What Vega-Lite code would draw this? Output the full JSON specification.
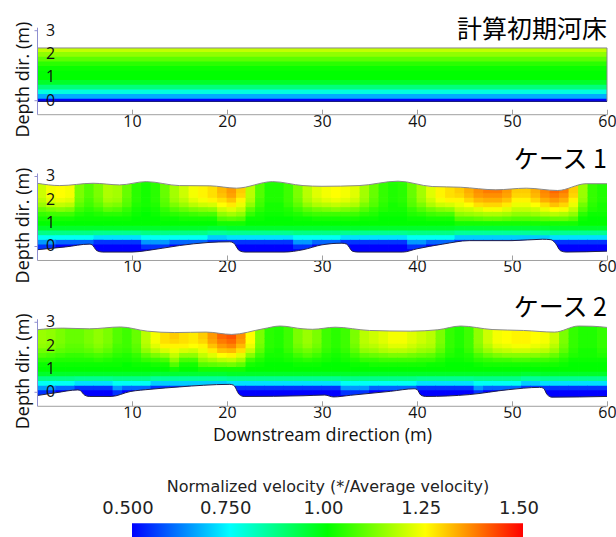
{
"$schema":"https://vega.github.io/schema/vega-lite/v6.json",
"padding":{"left":14,"top":17.2,"right":5,"bottom":0},
"background":"white",
"config":{"view":{"stroke":null},"font":"Open Sans","axis":{"grid":false,"labelColor":"#111","titleColor":"#111"}},
"datasets":{
"lev":[{"lv":"a","yc":-0.2},{"lv":"b","yc":0},{"lv":"c","yc":0.2},{"lv":"d","yc":0.4},{"lv":"e","yc":0.6},{"lv":"f","yc":0.8},{"lv":"g","yc":1},{"lv":"h","yc":1.2},{"lv":"i","yc":1.4},{"lv":"j","yc":1.6},{"lv":"k","yc":1.8},{"lv":"l","yc":2},{"lv":"m","yc":2.2},{"lv":"n","yc":2.4},{"lv":"o","yc":2.6},{"lv":"p","yc":2.8}],
"ticks":[{"yl":0},{"yl":1},{"yl":2},{"yl":3}],
"vel":[
{"s":1,"x":0,"x2":60,"a":0.5,"b":0.5,"c":0.67,"d":0.78,"e":0.88,"f":0.96,"g":1,"h":1,"i":1.01,"j":1.04,"k":1.09,"l":1.14,"m":1.19,"n":1.21,"o":1.21,"p":1.21},
{"s":2,"x":0.5,"a":0.5,"b":0.55,"c":0.65,"d":0.76,"e":0.87,"f":0.96,"g":1,"h":1.02,"i":1.05,"j":1.1,"k":1.15,"l":1.18,"m":1.2,"n":1.2,"o":1.2,"p":1.2},
{"s":2,"x":1.5,"a":0.5,"b":0.55,"c":0.65,"d":0.76,"e":0.87,"f":0.96,"g":1,"h":1.02,"i":1.06,"j":1.12,"k":1.18,"l":1.22,"m":1.24,"n":1.24,"o":1.24,"p":1.24},
{"s":2,"x":2.5,"a":0.5,"b":0.5,"c":0.6,"d":0.76,"e":0.87,"f":0.96,"g":1,"h":1.02,"i":1.06,"j":1.13,"k":1.19,"l":1.23,"m":1.25,"n":1.25,"o":1.25,"p":1.25},
{"s":2,"x":3.5,"a":0.5,"b":0.5,"c":0.6,"d":0.76,"e":0.87,"f":0.96,"g":1,"h":1.02,"i":1.06,"j":1.12,"k":1.18,"l":1.22,"m":1.24,"n":1.24,"o":1.24,"p":1.24},
{"s":2,"x":4.5,"a":0.5,"b":0.5,"c":0.6,"d":0.76,"e":0.87,"f":0.96,"g":1,"h":1.01,"i":1.03,"j":1.06,"k":1.09,"l":1.11,"m":1.12,"n":1.12,"o":1.12,"p":1.12},
{"s":2,"x":5.5,"a":0.5,"b":0.5,"c":0.6,"d":0.76,"e":0.87,"f":0.96,"g":1,"h":1.01,"i":1.02,"j":1.04,"k":1.06,"l":1.07,"m":1.08,"n":1.08,"o":1.08,"p":1.08},
{"s":2,"x":6.5,"a":0.5,"b":0.5,"c":0.55,"d":0.72,"e":0.86,"f":0.96,"g":1,"h":1.01,"i":1.03,"j":1.06,"k":1.09,"l":1.11,"m":1.12,"n":1.12,"o":1.12,"p":1.12},
{"s":2,"x":7.5,"a":0.5,"b":0.5,"c":0.55,"d":0.72,"e":0.86,"f":0.96,"g":1,"h":1.01,"i":1.04,"j":1.09,"k":1.13,"l":1.16,"m":1.17,"n":1.17,"o":1.17,"p":1.17},
{"s":2,"x":8.5,"a":0.5,"b":0.5,"c":0.55,"d":0.72,"e":0.86,"f":0.96,"g":1,"h":1.01,"i":1.04,"j":1.08,"k":1.12,"l":1.15,"m":1.16,"n":1.16,"o":1.16,"p":1.16},
{"s":2,"x":9.5,"a":0.5,"b":0.5,"c":0.55,"d":0.72,"e":0.86,"f":0.96,"g":1,"h":1.01,"i":1.03,"j":1.05,"k":1.08,"l":1.09,"m":1.1,"n":1.1,"o":1.1,"p":1.1},
{"s":2,"x":10.5,"a":0.5,"b":0.5,"c":0.55,"d":0.72,"e":0.86,"f":0.96,"g":1,"h":1,"i":1.01,"j":1.02,"k":1.03,"l":1.04,"m":1.04,"n":1.04,"o":1.04,"p":1.04},
{"s":2,"x":11.5,"a":0.5,"b":0.55,"c":0.65,"d":0.76,"e":0.87,"f":0.96,"g":1,"h":1,"i":1,"j":1.01,"k":1.02,"l":1.02,"m":1.02,"n":1.02,"o":1.02,"p":1.02},
{"s":2,"x":12.5,"a":0.5,"b":0.55,"c":0.65,"d":0.76,"e":0.87,"f":0.96,"g":1,"h":1,"i":1.01,"j":1.02,"k":1.03,"l":1.04,"m":1.04,"n":1.04,"o":1.04,"p":1.04},
{"s":2,"x":13.5,"a":0.5,"b":0.55,"c":0.65,"d":0.76,"e":0.87,"f":0.96,"g":1,"h":1.01,"i":1.03,"j":1.05,"k":1.08,"l":1.09,"m":1.1,"n":1.1,"o":1.1,"p":1.1},
{"s":2,"x":14.5,"a":0.5,"b":0.5,"c":0.6,"d":0.76,"e":0.87,"f":0.96,"g":1,"h":1.01,"i":1.04,"j":1.08,"k":1.12,"l":1.15,"m":1.16,"n":1.16,"o":1.16,"p":1.16},
{"s":2,"x":15.5,"a":0.5,"b":0.5,"c":0.6,"d":0.76,"e":0.87,"f":0.96,"g":1,"h":1.02,"i":1.05,"j":1.1,"k":1.15,"l":1.18,"m":1.2,"n":1.2,"o":1.2,"p":1.2},
{"s":2,"x":16.5,"a":0.5,"b":0.5,"c":0.6,"d":0.76,"e":0.87,"f":0.96,"g":1,"h":1.02,"i":1.06,"j":1.12,"k":1.18,"l":1.22,"m":1.24,"n":1.24,"o":1.24,"p":1.24},
{"s":2,"x":17.5,"a":0.5,"b":0.5,"c":0.6,"d":0.76,"e":0.87,"f":0.96,"g":1,"h":1.02,"i":1.07,"j":1.13,"k":1.2,"l":1.24,"m":1.26,"n":1.26,"o":1.26,"p":1.26},
{"s":2,"x":18.5,"a":0.5,"b":0.5,"c":0.55,"d":0.7,"e":0.85,"f":0.95,"g":1,"h":1.02,"i":1.07,"j":1.14,"k":1.21,"l":1.26,"m":1.28,"n":1.28,"o":1.28,"p":1.28},
{"s":2,"x":19.5,"a":0.5,"b":0.5,"c":0.55,"d":0.7,"e":0.85,"f":0.95,"g":1.02,"h":1.08,"i":1.14,"j":1.2,"k":1.25,"l":1.28,"m":1.31,"n":1.32,"o":1.32,"p":1.32},
{"s":2,"x":20.5,"a":0.5,"b":0.5,"c":0.55,"d":0.72,"e":0.86,"f":0.96,"g":1.02,"h":1.09,"i":1.16,"j":1.22,"k":1.27,"l":1.31,"m":1.34,"n":1.35,"o":1.35,"p":1.35},
{"s":2,"x":21.5,"a":0.5,"b":0.5,"c":0.55,"d":0.72,"e":0.86,"f":0.96,"g":1.02,"h":1.08,"i":1.14,"j":1.19,"k":1.23,"l":1.26,"m":1.29,"n":1.3,"o":1.3,"p":1.3},
{"s":2,"x":22.5,"a":0.5,"b":0.5,"c":0.55,"d":0.72,"e":0.86,"f":0.96,"g":1,"h":1.01,"i":1.05,"j":1.09,"k":1.14,"l":1.17,"m":1.18,"n":1.18,"o":1.18,"p":1.18},
{"s":2,"x":23.5,"a":0.5,"b":0.5,"c":0.55,"d":0.72,"e":0.86,"f":0.96,"g":1,"h":1.01,"i":1.02,"j":1.04,"k":1.06,"l":1.07,"m":1.08,"n":1.08,"o":1.08,"p":1.08},
{"s":2,"x":24.5,"a":0.5,"b":0.5,"c":0.55,"d":0.72,"e":0.86,"f":0.96,"g":1,"h":1,"i":1.01,"j":1.02,"k":1.02,"l":1.03,"m":1.03,"n":1.03,"o":1.03,"p":1.03},
{"s":2,"x":25.5,"a":0.5,"b":0.5,"c":0.55,"d":0.72,"e":0.86,"f":0.96,"g":1,"h":1,"i":1.01,"j":1.02,"k":1.02,"l":1.03,"m":1.03,"n":1.03,"o":1.03,"p":1.03},
{"s":2,"x":26.5,"a":0.5,"b":0.5,"c":0.55,"d":0.72,"e":0.86,"f":0.96,"g":1,"h":1,"i":1.02,"j":1.03,"k":1.05,"l":1.06,"m":1.06,"n":1.06,"o":1.06,"p":1.06},
{"s":2,"x":27.5,"a":0.5,"b":0.55,"c":0.65,"d":0.76,"e":0.87,"f":0.96,"g":1,"h":1.01,"i":1.03,"j":1.06,"k":1.09,"l":1.11,"m":1.12,"n":1.12,"o":1.12,"p":1.12},
{"s":2,"x":28.5,"a":0.5,"b":0.55,"c":0.65,"d":0.76,"e":0.87,"f":0.96,"g":1,"h":1.01,"i":1.05,"j":1.09,"k":1.14,"l":1.17,"m":1.18,"n":1.18,"o":1.18,"p":1.18},
{"s":2,"x":29.5,"a":0.5,"b":0.5,"c":0.6,"d":0.76,"e":0.87,"f":0.96,"g":1,"h":1.02,"i":1.06,"j":1.11,"k":1.17,"l":1.2,"m":1.22,"n":1.22,"o":1.22,"p":1.22},
{"s":2,"x":30.5,"a":0.5,"b":0.5,"c":0.6,"d":0.76,"e":0.87,"f":0.96,"g":1,"h":1.02,"i":1.06,"j":1.12,"k":1.18,"l":1.22,"m":1.24,"n":1.24,"o":1.24,"p":1.24},
{"s":2,"x":31.5,"a":0.5,"b":0.5,"c":0.6,"d":0.76,"e":0.87,"f":0.96,"g":1,"h":1.02,"i":1.06,"j":1.13,"k":1.19,"l":1.23,"m":1.25,"n":1.25,"o":1.25,"p":1.25},
{"s":2,"x":32.5,"a":0.5,"b":0.5,"c":0.55,"d":0.72,"e":0.86,"f":0.96,"g":1,"h":1.02,"i":1.06,"j":1.12,"k":1.18,"l":1.22,"m":1.24,"n":1.24,"o":1.24,"p":1.24},
{"s":2,"x":33.5,"a":0.5,"b":0.5,"c":0.55,"d":0.72,"e":0.86,"f":0.96,"g":1,"h":1.02,"i":1.06,"j":1.11,"k":1.17,"l":1.2,"m":1.22,"n":1.22,"o":1.22,"p":1.22},
{"s":2,"x":34.5,"a":0.5,"b":0.5,"c":0.55,"d":0.72,"e":0.86,"f":0.96,"g":1,"h":1.01,"i":1.04,"j":1.08,"k":1.12,"l":1.15,"m":1.16,"n":1.16,"o":1.16,"p":1.16},
{"s":2,"x":35.5,"a":0.5,"b":0.5,"c":0.55,"d":0.72,"e":0.86,"f":0.96,"g":1,"h":1.01,"i":1.03,"j":1.05,"k":1.08,"l":1.09,"m":1.1,"n":1.1,"o":1.1,"p":1.1},
{"s":2,"x":36.5,"a":0.5,"b":0.5,"c":0.55,"d":0.72,"e":0.86,"f":0.96,"g":1,"h":1,"i":1.01,"j":1.03,"k":1.04,"l":1.05,"m":1.05,"n":1.05,"o":1.05,"p":1.05},
{"s":2,"x":37.5,"a":0.5,"b":0.5,"c":0.55,"d":0.72,"e":0.86,"f":0.96,"g":1,"h":1,"i":1.01,"j":1.02,"k":1.02,"l":1.03,"m":1.03,"n":1.03,"o":1.03,"p":1.03},
{"s":2,"x":38.5,"a":0.5,"b":0.5,"c":0.55,"d":0.72,"e":0.86,"f":0.96,"g":1,"h":1,"i":1.01,"j":1.02,"k":1.03,"l":1.04,"m":1.04,"n":1.04,"o":1.04,"p":1.04},
{"s":2,"x":39.5,"a":0.5,"b":0.55,"c":0.65,"d":0.76,"e":0.87,"f":0.96,"g":1,"h":1.01,"i":1.03,"j":1.05,"k":1.08,"l":1.09,"m":1.1,"n":1.1,"o":1.1,"p":1.1},
{"s":2,"x":40.5,"a":0.5,"b":0.55,"c":0.65,"d":0.76,"e":0.87,"f":0.96,"g":1,"h":1.01,"i":1.04,"j":1.08,"k":1.12,"l":1.15,"m":1.16,"n":1.16,"o":1.16,"p":1.16},
{"s":2,"x":41.5,"a":0.5,"b":0.5,"c":0.6,"d":0.76,"e":0.87,"f":0.96,"g":1,"h":1.02,"i":1.06,"j":1.11,"k":1.17,"l":1.2,"m":1.22,"n":1.22,"o":1.22,"p":1.22},
{"s":2,"x":42.5,"a":0.5,"b":0.5,"c":0.6,"d":0.76,"e":0.87,"f":0.96,"g":1,"h":1.02,"i":1.07,"j":1.13,"k":1.2,"l":1.24,"m":1.26,"n":1.26,"o":1.26,"p":1.26},
{"s":2,"x":43.5,"a":0.5,"b":0.5,"c":0.6,"d":0.76,"e":0.87,"f":0.96,"g":1,"h":1.02,"i":1.07,"j":1.14,"k":1.21,"l":1.26,"m":1.28,"n":1.28,"o":1.28,"p":1.28},
{"s":2,"x":44.5,"a":0.5,"b":0.5,"c":0.55,"d":0.7,"e":0.85,"f":0.95,"g":1.02,"h":1.08,"i":1.14,"j":1.19,"k":1.23,"l":1.26,"m":1.29,"n":1.3,"o":1.3,"p":1.3},
{"s":2,"x":45.5,"a":0.5,"b":0.5,"c":0.55,"d":0.7,"e":0.85,"f":0.95,"g":1.02,"h":1.08,"i":1.15,"j":1.2,"k":1.25,"l":1.29,"m":1.32,"n":1.33,"o":1.33,"p":1.33},
{"s":2,"x":46.5,"a":0.5,"b":0.5,"c":0.55,"d":0.7,"e":0.85,"f":0.95,"g":1.02,"h":1.09,"i":1.16,"j":1.22,"k":1.28,"l":1.32,"m":1.35,"n":1.36,"o":1.36,"p":1.36},
{"s":2,"x":47.5,"a":0.5,"b":0.5,"c":0.55,"d":0.7,"e":0.85,"f":0.95,"g":1.02,"h":1.1,"i":1.17,"j":1.24,"k":1.29,"l":1.33,"m":1.36,"n":1.38,"o":1.38,"p":1.38},
{"s":2,"x":48.5,"a":0.5,"b":0.5,"c":0.55,"d":0.7,"e":0.85,"f":0.95,"g":1.02,"h":1.1,"i":1.17,"j":1.24,"k":1.29,"l":1.33,"m":1.36,"n":1.38,"o":1.38,"p":1.38},
{"s":2,"x":49.5,"a":0.5,"b":0.5,"c":0.55,"d":0.7,"e":0.85,"f":0.95,"g":1.02,"h":1.09,"i":1.16,"j":1.22,"k":1.27,"l":1.31,"m":1.34,"n":1.35,"o":1.35,"p":1.35},
{"s":2,"x":50.5,"a":0.5,"b":0.5,"c":0.55,"d":0.7,"e":0.85,"f":0.95,"g":1.02,"h":1.08,"i":1.14,"j":1.19,"k":1.23,"l":1.26,"m":1.29,"n":1.3,"o":1.3,"p":1.3},
{"s":2,"x":51.5,"a":0.5,"b":0.5,"c":0.55,"d":0.7,"e":0.85,"f":0.95,"g":1.02,"h":1.08,"i":1.14,"j":1.19,"k":1.23,"l":1.26,"m":1.29,"n":1.3,"o":1.3,"p":1.3},
{"s":2,"x":52.5,"a":0.5,"b":0.5,"c":0.55,"d":0.7,"e":0.85,"f":0.95,"g":1.02,"h":1.08,"i":1.15,"j":1.2,"k":1.25,"l":1.29,"m":1.32,"n":1.33,"o":1.33,"p":1.33},
{"s":2,"x":53.5,"a":0.5,"b":0.5,"c":0.55,"d":0.7,"e":0.85,"f":0.95,"g":1.02,"h":1.09,"i":1.17,"j":1.23,"k":1.28,"l":1.33,"m":1.36,"n":1.37,"o":1.37,"p":1.37},
{"s":2,"x":54.5,"a":0.5,"b":0.5,"c":0.55,"d":0.72,"e":0.86,"f":0.96,"g":1.02,"h":1.1,"i":1.18,"j":1.25,"k":1.31,"l":1.35,"m":1.38,"n":1.4,"o":1.4,"p":1.4},
{"s":2,"x":55.5,"a":0.5,"b":0.5,"c":0.55,"d":0.72,"e":0.86,"f":0.96,"g":1.02,"h":1.1,"i":1.17,"j":1.24,"k":1.29,"l":1.33,"m":1.36,"n":1.38,"o":1.38,"p":1.38},
{"s":2,"x":56.5,"a":0.5,"b":0.5,"c":0.55,"d":0.72,"e":0.86,"f":0.96,"g":1.02,"h":1.08,"i":1.14,"j":1.19,"k":1.23,"l":1.26,"m":1.29,"n":1.3,"o":1.3,"p":1.3},
{"s":2,"x":57.5,"a":0.5,"b":0.5,"c":0.55,"d":0.72,"e":0.86,"f":0.96,"g":1,"h":1.01,"i":1.04,"j":1.08,"k":1.11,"l":1.14,"m":1.15,"n":1.15,"o":1.15,"p":1.15},
{"s":2,"x":58.5,"a":0.5,"b":0.5,"c":0.55,"d":0.72,"e":0.86,"f":0.96,"g":1,"h":1,"i":1.01,"j":1.03,"k":1.04,"l":1.05,"m":1.05,"n":1.05,"o":1.05,"p":1.05},
{"s":2,"x":59.5,"a":0.5,"b":0.5,"c":0.55,"d":0.72,"e":0.86,"f":0.96,"g":1,"h":1,"i":1.01,"j":1.02,"k":1.02,"l":1.03,"m":1.03,"n":1.03,"o":1.03,"p":1.03},
{"s":3,"x":0.5,"a":0.5,"b":0.55,"c":0.65,"d":0.76,"e":0.87,"f":0.96,"g":1,"h":1.01,"i":1.04,"j":1.08,"k":1.11,"l":1.14,"m":1.15,"n":1.15,"o":1.15,"p":1.15},
{"s":3,"x":1.5,"a":0.5,"b":0.55,"c":0.65,"d":0.76,"e":0.87,"f":0.96,"g":1,"h":1.01,"i":1.04,"j":1.07,"k":1.11,"l":1.13,"m":1.14,"n":1.14,"o":1.14,"p":1.14},
{"s":3,"x":2.5,"a":0.5,"b":0.5,"c":0.6,"d":0.76,"e":0.87,"f":0.96,"g":1,"h":1.01,"i":1.03,"j":1.06,"k":1.09,"l":1.11,"m":1.12,"n":1.12,"o":1.12,"p":1.12},
{"s":3,"x":3.5,"a":0.5,"b":0.5,"c":0.6,"d":0.76,"e":0.87,"f":0.96,"g":1,"h":1.01,"i":1.03,"j":1.05,"k":1.08,"l":1.09,"m":1.1,"n":1.1,"o":1.1,"p":1.1},
{"s":3,"x":4.5,"a":0.5,"b":0.5,"c":0.55,"d":0.72,"e":0.86,"f":0.96,"g":1,"h":1.01,"i":1.03,"j":1.05,"k":1.08,"l":1.09,"m":1.1,"n":1.1,"o":1.1,"p":1.1},
{"s":3,"x":5.5,"a":0.5,"b":0.5,"c":0.55,"d":0.72,"e":0.86,"f":0.96,"g":1,"h":1.01,"i":1.03,"j":1.06,"k":1.09,"l":1.11,"m":1.12,"n":1.12,"o":1.12,"p":1.12},
{"s":3,"x":6.5,"a":0.5,"b":0.5,"c":0.55,"d":0.72,"e":0.86,"f":0.96,"g":1,"h":1.01,"i":1.04,"j":1.07,"k":1.11,"l":1.13,"m":1.14,"n":1.14,"o":1.14,"p":1.14},
{"s":3,"x":7.5,"a":0.5,"b":0.5,"c":0.55,"d":0.72,"e":0.86,"f":0.96,"g":1,"h":1.01,"i":1.03,"j":1.06,"k":1.09,"l":1.11,"m":1.12,"n":1.12,"o":1.12,"p":1.12},
{"s":3,"x":8.5,"a":0.5,"b":0.55,"c":0.65,"d":0.76,"e":0.87,"f":0.96,"g":1,"h":1.01,"i":1.02,"j":1.04,"k":1.06,"l":1.07,"m":1.08,"n":1.08,"o":1.08,"p":1.08},
{"s":3,"x":9.5,"a":0.5,"b":0.5,"c":0.6,"d":0.76,"e":0.87,"f":0.96,"g":1,"h":1,"i":1.02,"j":1.03,"k":1.05,"l":1.06,"m":1.06,"n":1.06,"o":1.06,"p":1.06},
{"s":3,"x":10.5,"a":0.5,"b":0.5,"c":0.6,"d":0.76,"e":0.87,"f":0.96,"g":1,"h":1.01,"i":1.03,"j":1.05,"k":1.08,"l":1.09,"m":1.1,"n":1.1,"o":1.1,"p":1.1},
{"s":3,"x":11.5,"a":0.5,"b":0.5,"c":0.6,"d":0.76,"e":0.87,"f":0.96,"g":1,"h":1.01,"i":1.05,"j":1.09,"k":1.14,"l":1.17,"m":1.18,"n":1.18,"o":1.18,"p":1.18},
{"s":3,"x":12.5,"a":0.5,"b":0.5,"c":0.55,"d":0.7,"e":0.85,"f":0.95,"g":1,"h":1.02,"i":1.06,"j":1.12,"k":1.18,"l":1.22,"m":1.24,"n":1.24,"o":1.24,"p":1.24},
{"s":3,"x":13.5,"a":0.5,"b":0.5,"c":0.55,"d":0.7,"e":0.85,"f":0.95,"g":1,"h":1.02,"i":1.07,"j":1.14,"k":1.21,"l":1.26,"m":1.28,"n":1.28,"o":1.28,"p":1.28},
{"s":3,"x":14.5,"a":0.5,"b":0.5,"c":0.55,"d":0.7,"e":0.85,"f":0.95,"g":1.02,"h":1.08,"i":1.14,"j":1.19,"k":1.23,"l":1.26,"m":1.29,"n":1.3,"o":1.3,"p":1.3},
{"s":3,"x":15.5,"a":0.5,"b":0.5,"c":0.55,"d":0.7,"e":0.85,"f":0.95,"g":1,"h":1.02,"i":1.07,"j":1.14,"k":1.21,"l":1.26,"m":1.28,"n":1.28,"o":1.28,"p":1.28},
{"s":3,"x":16.5,"a":0.5,"b":0.5,"c":0.55,"d":0.7,"e":0.85,"f":0.95,"g":1,"h":1.02,"i":1.07,"j":1.14,"k":1.2,"l":1.25,"m":1.27,"n":1.27,"o":1.27,"p":1.27},
{"s":3,"x":17.5,"a":0.5,"b":0.5,"c":0.55,"d":0.7,"e":0.85,"f":0.95,"g":1.02,"h":1.08,"i":1.14,"j":1.19,"k":1.23,"l":1.26,"m":1.29,"n":1.3,"o":1.3,"p":1.3},
{"s":3,"x":18.5,"a":0.5,"b":0.5,"c":0.55,"d":0.7,"e":0.85,"f":0.95,"g":1.02,"h":1.09,"i":1.16,"j":1.22,"k":1.27,"l":1.31,"m":1.34,"n":1.35,"o":1.35,"p":1.35},
{"s":3,"x":19.5,"a":0.5,"b":0.5,"c":0.55,"d":0.7,"e":0.85,"f":0.95,"g":1.02,"h":1.1,"i":1.18,"j":1.25,"k":1.31,"l":1.35,"m":1.38,"n":1.4,"o":1.4,"p":1.4},
{"s":3,"x":20.5,"a":0.5,"b":0.5,"c":0.55,"d":0.72,"e":0.86,"f":0.96,"g":1.02,"h":1.11,"i":1.19,"j":1.26,"k":1.32,"l":1.37,"m":1.4,"n":1.42,"o":1.42,"p":1.42},
{"s":3,"x":21.5,"a":0.5,"b":0.5,"c":0.55,"d":0.72,"e":0.86,"f":0.96,"g":1.02,"h":1.09,"i":1.16,"j":1.22,"k":1.28,"l":1.32,"m":1.35,"n":1.36,"o":1.36,"p":1.36},
{"s":3,"x":22.5,"a":0.5,"b":0.5,"c":0.55,"d":0.72,"e":0.86,"f":0.96,"g":1,"h":1.02,"i":1.06,"j":1.13,"k":1.19,"l":1.23,"m":1.25,"n":1.25,"o":1.25,"p":1.25},
{"s":3,"x":23.5,"a":0.5,"b":0.5,"c":0.55,"d":0.72,"e":0.86,"f":0.96,"g":1,"h":1.01,"i":1.03,"j":1.06,"k":1.09,"l":1.11,"m":1.12,"n":1.12,"o":1.12,"p":1.12},
{"s":3,"x":24.5,"a":0.5,"b":0.5,"c":0.55,"d":0.72,"e":0.86,"f":0.96,"g":1,"h":1,"i":1.01,"j":1.02,"k":1.03,"l":1.04,"m":1.04,"n":1.04,"o":1.04,"p":1.04},
{"s":3,"x":25.5,"a":0.5,"b":0.5,"c":0.55,"d":0.72,"e":0.86,"f":0.96,"g":1,"h":1,"i":1.01,"j":1.02,"k":1.02,"l":1.03,"m":1.03,"n":1.03,"o":1.03,"p":1.03},
{"s":3,"x":26.5,"a":0.5,"b":0.5,"c":0.55,"d":0.72,"e":0.86,"f":0.96,"g":1,"h":1,"i":1.02,"j":1.03,"k":1.05,"l":1.06,"m":1.06,"n":1.06,"o":1.06,"p":1.06},
{"s":3,"x":27.5,"a":0.5,"b":0.5,"c":0.55,"d":0.72,"e":0.86,"f":0.96,"g":1,"h":1.01,"i":1.03,"j":1.06,"k":1.09,"l":1.11,"m":1.12,"n":1.12,"o":1.12,"p":1.12},
{"s":3,"x":28.5,"a":0.5,"b":0.5,"c":0.55,"d":0.72,"e":0.86,"f":0.96,"g":1,"h":1.01,"i":1.04,"j":1.08,"k":1.11,"l":1.14,"m":1.15,"n":1.15,"o":1.15,"p":1.15},
{"s":3,"x":29.5,"a":0.5,"b":0.5,"c":0.55,"d":0.72,"e":0.86,"f":0.96,"g":1,"h":1.01,"i":1.03,"j":1.06,"k":1.09,"l":1.11,"m":1.12,"n":1.12,"o":1.12,"p":1.12},
{"s":3,"x":30.5,"a":0.5,"b":0.5,"c":0.55,"d":0.72,"e":0.86,"f":0.96,"g":1,"h":1,"i":1.02,"j":1.03,"k":1.05,"l":1.06,"m":1.06,"n":1.06,"o":1.06,"p":1.06},
{"s":3,"x":31.5,"a":0.5,"b":0.5,"c":0.55,"d":0.72,"e":0.86,"f":0.96,"g":1,"h":1,"i":1.01,"j":1.02,"k":1.03,"l":1.04,"m":1.04,"n":1.04,"o":1.04,"p":1.04},
{"s":3,"x":32.5,"a":0.5,"b":0.55,"c":0.65,"d":0.76,"e":0.87,"f":0.96,"g":1,"h":1,"i":1.02,"j":1.03,"k":1.05,"l":1.06,"m":1.06,"n":1.06,"o":1.06,"p":1.06},
{"s":3,"x":33.5,"a":0.5,"b":0.55,"c":0.65,"d":0.76,"e":0.87,"f":0.96,"g":1,"h":1.01,"i":1.03,"j":1.06,"k":1.09,"l":1.11,"m":1.12,"n":1.12,"o":1.12,"p":1.12},
{"s":3,"x":34.5,"a":0.5,"b":0.55,"c":0.65,"d":0.76,"e":0.87,"f":0.96,"g":1,"h":1.01,"i":1.05,"j":1.09,"k":1.14,"l":1.17,"m":1.18,"n":1.18,"o":1.18,"p":1.18},
{"s":3,"x":35.5,"a":0.5,"b":0.5,"c":0.6,"d":0.76,"e":0.87,"f":0.96,"g":1,"h":1.02,"i":1.05,"j":1.1,"k":1.15,"l":1.18,"m":1.2,"n":1.2,"o":1.2,"p":1.2},
{"s":3,"x":36.5,"a":0.5,"b":0.5,"c":0.6,"d":0.76,"e":0.87,"f":0.96,"g":1,"h":1.02,"i":1.06,"j":1.11,"k":1.17,"l":1.2,"m":1.22,"n":1.22,"o":1.22,"p":1.22},
{"s":3,"x":37.5,"a":0.5,"b":0.5,"c":0.6,"d":0.76,"e":0.87,"f":0.96,"g":1,"h":1.02,"i":1.06,"j":1.12,"k":1.18,"l":1.22,"m":1.24,"n":1.24,"o":1.24,"p":1.24},
{"s":3,"x":38.5,"a":0.5,"b":0.5,"c":0.6,"d":0.76,"e":0.87,"f":0.96,"g":1,"h":1.02,"i":1.06,"j":1.12,"k":1.18,"l":1.22,"m":1.24,"n":1.24,"o":1.24,"p":1.24},
{"s":3,"x":39.5,"a":0.5,"b":0.5,"c":0.6,"d":0.76,"e":0.87,"f":0.96,"g":1,"h":1.02,"i":1.06,"j":1.11,"k":1.17,"l":1.2,"m":1.22,"n":1.22,"o":1.22,"p":1.22},
{"s":3,"x":40.5,"a":0.5,"b":0.5,"c":0.55,"d":0.72,"e":0.86,"f":0.96,"g":1,"h":1.02,"i":1.05,"j":1.1,"k":1.15,"l":1.18,"m":1.2,"n":1.2,"o":1.2,"p":1.2},
{"s":3,"x":41.5,"a":0.5,"b":0.5,"c":0.55,"d":0.72,"e":0.86,"f":0.96,"g":1,"h":1.01,"i":1.05,"j":1.09,"k":1.14,"l":1.17,"m":1.18,"n":1.18,"o":1.18,"p":1.18},
{"s":3,"x":42.5,"a":0.5,"b":0.5,"c":0.55,"d":0.72,"e":0.86,"f":0.96,"g":1,"h":1.01,"i":1.03,"j":1.06,"k":1.09,"l":1.11,"m":1.12,"n":1.12,"o":1.12,"p":1.12},
{"s":3,"x":43.5,"a":0.5,"b":0.5,"c":0.55,"d":0.72,"e":0.86,"f":0.96,"g":1,"h":1,"i":1.01,"j":1.03,"k":1.04,"l":1.05,"m":1.05,"n":1.05,"o":1.05,"p":1.05},
{"s":3,"x":44.5,"a":0.5,"b":0.5,"c":0.55,"d":0.72,"e":0.86,"f":0.96,"g":1,"h":1,"i":1.01,"j":1.02,"k":1.02,"l":1.03,"m":1.03,"n":1.03,"o":1.03,"p":1.03},
{"s":3,"x":45.5,"a":0.5,"b":0.5,"c":0.55,"d":0.72,"e":0.86,"f":0.96,"g":1,"h":1,"i":1.02,"j":1.03,"k":1.05,"l":1.06,"m":1.06,"n":1.06,"o":1.06,"p":1.06},
{"s":3,"x":46.5,"a":0.5,"b":0.55,"c":0.65,"d":0.76,"e":0.87,"f":0.96,"g":1,"h":1.01,"i":1.04,"j":1.07,"k":1.11,"l":1.13,"m":1.14,"n":1.14,"o":1.14,"p":1.14},
{"s":3,"x":47.5,"a":0.5,"b":0.5,"c":0.6,"d":0.76,"e":0.87,"f":0.96,"g":1,"h":1.02,"i":1.05,"j":1.1,"k":1.15,"l":1.18,"m":1.2,"n":1.2,"o":1.2,"p":1.2},
{"s":3,"x":48.5,"a":0.5,"b":0.5,"c":0.6,"d":0.76,"e":0.87,"f":0.96,"g":1,"h":1.02,"i":1.06,"j":1.12,"k":1.18,"l":1.22,"m":1.24,"n":1.24,"o":1.24,"p":1.24},
{"s":3,"x":49.5,"a":0.5,"b":0.5,"c":0.6,"d":0.76,"e":0.87,"f":0.96,"g":1,"h":1.02,"i":1.06,"j":1.13,"k":1.19,"l":1.23,"m":1.25,"n":1.25,"o":1.25,"p":1.25},
{"s":3,"x":50.5,"a":0.5,"b":0.5,"c":0.6,"d":0.76,"e":0.87,"f":0.96,"g":1,"h":1.02,"i":1.07,"j":1.13,"k":1.2,"l":1.24,"m":1.26,"n":1.26,"o":1.26,"p":1.26},
{"s":3,"x":51.5,"a":0.5,"b":0.5,"c":0.55,"d":0.7,"e":0.85,"f":0.95,"g":1,"h":1.02,"i":1.07,"j":1.13,"k":1.2,"l":1.24,"m":1.26,"n":1.26,"o":1.26,"p":1.26},
{"s":3,"x":52.5,"a":0.5,"b":0.5,"c":0.55,"d":0.7,"e":0.85,"f":0.95,"g":1,"h":1.02,"i":1.06,"j":1.13,"k":1.19,"l":1.23,"m":1.25,"n":1.25,"o":1.25,"p":1.25},
{"s":3,"x":53.5,"a":0.5,"b":0.5,"c":0.55,"d":0.72,"e":0.86,"f":0.96,"g":1,"h":1.02,"i":1.06,"j":1.12,"k":1.18,"l":1.22,"m":1.24,"n":1.24,"o":1.24,"p":1.24},
{"s":3,"x":54.5,"a":0.5,"b":0.5,"c":0.55,"d":0.72,"e":0.86,"f":0.96,"g":1,"h":1.02,"i":1.05,"j":1.1,"k":1.15,"l":1.18,"m":1.2,"n":1.2,"o":1.2,"p":1.2},
{"s":3,"x":55.5,"a":0.5,"b":0.5,"c":0.55,"d":0.72,"e":0.86,"f":0.96,"g":1,"h":1.01,"i":1.03,"j":1.06,"k":1.09,"l":1.11,"m":1.12,"n":1.12,"o":1.12,"p":1.12},
{"s":3,"x":56.5,"a":0.5,"b":0.5,"c":0.55,"d":0.72,"e":0.86,"f":0.96,"g":1,"h":1,"i":1.01,"j":1.03,"k":1.04,"l":1.05,"m":1.05,"n":1.05,"o":1.05,"p":1.05},
{"s":3,"x":57.5,"a":0.5,"b":0.5,"c":0.55,"d":0.72,"e":0.86,"f":0.96,"g":1,"h":1,"i":1.01,"j":1.02,"k":1.02,"l":1.03,"m":1.03,"n":1.03,"o":1.03,"p":1.03},
{"s":3,"x":58.5,"a":0.5,"b":0.5,"c":0.55,"d":0.72,"e":0.86,"f":0.96,"g":1,"h":1,"i":1.01,"j":1.02,"k":1.02,"l":1.03,"m":1.03,"n":1.03,"o":1.03,"p":1.03},
{"s":3,"x":59.5,"a":0.5,"b":0.5,"c":0.55,"d":0.72,"e":0.86,"f":0.96,"g":1,"h":1,"i":1.01,"j":1.03,"k":1.04,"l":1.05,"m":1.05,"n":1.05,"o":1.05,"p":1.05}
],
"prof":[
{"s":1,"t":"b","x":0,"z":-0.03},{"s":1,"t":"b","x":60,"z":-0.03},
{"s":1,"t":"w","x":0,"z":2.26},{"s":1,"t":"w","x":60,"z":2.26},
{"s":2,"t":"b","x":0,"z":-0.14},{"s":2,"t":"b","x":3,"z":-0.02},{"s":2,"t":"b","x":5.5,"z":0.1},{"s":2,"t":"b","x":5.8,"z":0.07},{"s":2,"t":"b","x":6.3,"z":-0.18},{"s":2,"t":"b","x":6.9,"z":-0.24},{"s":2,"t":"b","x":10,"z":-0.24},{"s":2,"t":"b","x":11.5,"z":-0.18},{"s":2,"t":"b","x":15,"z":0.04},{"s":2,"t":"b","x":18,"z":0.17},{"s":2,"t":"b","x":20.3,"z":0.2},{"s":2,"t":"b","x":20.7,"z":0.15},{"s":2,"t":"b","x":21.3,"z":-0.18},{"s":2,"t":"b","x":21.9,"z":-0.24},{"s":2,"t":"b","x":26,"z":-0.24},{"s":2,"t":"b","x":28,"z":-0.14},{"s":2,"t":"b","x":30,"z":0.07},{"s":2,"t":"b","x":32.1,"z":0.14},{"s":2,"t":"b","x":32.6,"z":0.1},{"s":2,"t":"b","x":33.2,"z":-0.2},{"s":2,"t":"b","x":33.8,"z":-0.24},{"s":2,"t":"b","x":38.5,"z":-0.24},{"s":2,"t":"b","x":40,"z":-0.1},{"s":2,"t":"b","x":42.7,"z":0.1},{"s":2,"t":"b","x":45.5,"z":0.25},{"s":2,"t":"b","x":50,"z":0.25},{"s":2,"t":"b","x":53.2,"z":0.31},{"s":2,"t":"b","x":54.1,"z":0.29},{"s":2,"t":"b","x":54.6,"z":0.12},{"s":2,"t":"b","x":55.1,"z":-0.18},{"s":2,"t":"b","x":55.7,"z":-0.24},{"s":2,"t":"b","x":60,"z":-0.2},
{"s":2,"t":"w","x":0,"z":2.71},{"s":2,"t":"w","x":2.4,"z":2.61},{"s":2,"t":"w","x":5.9,"z":2.71},{"s":2,"t":"w","x":8.7,"z":2.64},{"s":2,"t":"w","x":11.5,"z":2.78},{"s":2,"t":"w","x":15,"z":2.61},{"s":2,"t":"w","x":18.2,"z":2.6},{"s":2,"t":"w","x":21,"z":2.5},{"s":2,"t":"w","x":24.8,"z":2.78},{"s":2,"t":"w","x":28,"z":2.61},{"s":2,"t":"w","x":30,"z":2.58},{"s":2,"t":"w","x":33.9,"z":2.61},{"s":2,"t":"w","x":38,"z":2.8},{"s":2,"t":"w","x":41.6,"z":2.57},{"s":2,"t":"w","x":44.6,"z":2.54},{"s":2,"t":"w","x":48.3,"z":2.43},{"s":2,"t":"w","x":51.5,"z":2.5},{"s":2,"t":"w","x":54.8,"z":2.4},{"s":2,"t":"w","x":57.8,"z":2.69},{"s":2,"t":"w","x":60,"z":2.69},
{"s":3,"t":"b","x":0,"z":-0.14},{"s":3,"t":"b","x":2,"z":-0.02},{"s":3,"t":"b","x":4.3,"z":0.1},{"s":3,"t":"b","x":4.6,"z":0.06},{"s":3,"t":"b","x":5,"z":-0.12},{"s":3,"t":"b","x":5.5,"z":-0.18},{"s":3,"t":"b","x":7.8,"z":-0.18},{"s":3,"t":"b","x":9.8,"z":0.03},{"s":3,"t":"b","x":12,"z":0.13},{"s":3,"t":"b","x":15,"z":0.23},{"s":3,"t":"b","x":17.5,"z":0.3},{"s":3,"t":"b","x":20.3,"z":0.34},{"s":3,"t":"b","x":20.7,"z":0.3},{"s":3,"t":"b","x":21.3,"z":-0.1},{"s":3,"t":"b","x":21.8,"z":-0.18},{"s":3,"t":"b","x":28,"z":-0.15},{"s":3,"t":"b","x":30.3,"z":-0.12},{"s":3,"t":"b","x":31.2,"z":-0.2},{"s":3,"t":"b","x":33,"z":-0.13},{"s":3,"t":"b","x":37.2,"z":0.04},{"s":3,"t":"b","x":39.7,"z":0.15},{"s":3,"t":"b","x":40,"z":0.12},{"s":3,"t":"b","x":40.4,"z":-0.12},{"s":3,"t":"b","x":40.9,"z":-0.18},{"s":3,"t":"b","x":45.5,"z":-0.1},{"s":3,"t":"b","x":49.6,"z":0.11},{"s":3,"t":"b","x":52.9,"z":0.21},{"s":3,"t":"b","x":53.3,"z":0.18},{"s":3,"t":"b","x":53.7,"z":-0.1},{"s":3,"t":"b","x":54.2,"z":-0.21},{"s":3,"t":"b","x":60,"z":-0.18},
{"s":3,"t":"w","x":0,"z":2.68},{"s":3,"t":"w","x":2.7,"z":2.75},{"s":3,"t":"w","x":5.5,"z":2.72},{"s":3,"t":"w","x":8.8,"z":2.8},{"s":3,"t":"w","x":11.6,"z":2.62},{"s":3,"t":"w","x":14.5,"z":2.56},{"s":3,"t":"w","x":17.8,"z":2.58},{"s":3,"t":"w","x":20.5,"z":2.48},{"s":3,"t":"w","x":23.8,"z":2.72},{"s":3,"t":"w","x":25.6,"z":2.84},{"s":3,"t":"w","x":28,"z":2.72},{"s":3,"t":"w","x":29,"z":2.7},{"s":3,"t":"w","x":31.4,"z":2.79},{"s":3,"t":"w","x":35,"z":2.65},{"s":3,"t":"w","x":39.3,"z":2.62},{"s":3,"t":"w","x":42.2,"z":2.68},{"s":3,"t":"w","x":44.6,"z":2.84},{"s":3,"t":"w","x":47.9,"z":2.69},{"s":3,"t":"w","x":51.2,"z":2.65},{"s":3,"t":"w","x":54.5,"z":2.58},{"s":3,"t":"w","x":57,"z":2.84},{"s":3,"t":"w","x":58.5,"z":2.83},{"s":3,"t":"w","x":60,"z":2.78}
]
},
"spacing":58.8,
"bounds":"flush",
"vconcat":[
{"width":570,"height":87,
 "title":{"text":"計算初期河床","anchor":"end","frame":"group","font":"Noto Sans CJK JP","fontSize":25,"fontWeight":"normal","baseline":"alphabetic","offset":-41.3,"color":"#000"},
 "layer":[
  {"data":{"name":"vel"},"transform":[{"filter":"datum.s==1"},{"fold":["a","b","c","d","e","f","g","h","i","j","k","l","m","n","o","p"],"as":["lv","v"]},{"lookup":"lv","from":{"data":{"name":"lev"},"key":"lv","fields":["yc"]}}],
   "mark":{"type":"rect","height":5.4,"clip":true},
   "encoding":{
    "x":{"field":"x","type":"quantitative","scale":{"domain":[0,60],"nice":false},"axis":{"values":[10,20,30,40,50,60],"title":null,"tickSize":-5,"labelPadding":4,"labelFontSize":16,"labelFlush":false,"domainColor":"#a0a0a0","tickColor":"#a0a0a0","zindex":1}},
    "x2":{"field":"x2"},
    "y":{"field":"yc","type":"quantitative","scale":{"domain":[-0.58,3.15],"nice":false,"zero":false},"axis":{"values":[0,1,2,3],"labels":false,"title":"Depth dir. (m)","titleFontSize":18,"titleFontWeight":"normal","titlePadding":1,"titleY":52,"tickSize":3,"domainColor":"#8f8fd0","tickColor":"#8f8fd0","zindex":1}},
    "color":{"field":"v","type":"quantitative","scale":{"type":"linear","domain":[0.5,0.75,1,1.25,1.5],"range":["#0000ff","#00ffff","#00ff00","#ffff00","#ff0000"],"interpolate":"rgb","clamp":true},
      "legend":{"type":"gradient","orient":"none","legendX":95,"legendY":452,"direction":"horizontal","gradientLength":391,"gradientThickness":17,"gradientStrokeWidth":0,"title":"Normalized velocity (*/Average velocity)","titleFont":"DejaVu Sans","titleFontSize":16,"titleFontWeight":"normal","titleColor":"#222","titleAnchor":"middle","titleLimit":600,"titlePadding":28,"labelFont":"DejaVu Sans","labelFontSize":18,"labelColor":"#222","labelOffset":-26,"labelOverlap":false,"values":[0.5,0.75,1,1.25,1.5],"format":".3r",
        "encode":{"labels":{"update":{"align":{"value":"center"},"baseline":{"value":"alphabetic"},"dx":{"value":-4}}}}}}
   }},
  {"data":{"name":"prof"},"transform":[{"filter":"datum.s==1&&datum.t=='b'"}],"mark":{"type":"area","color":"#ffffff","opacity":1,"interpolate":"monotone"},"encoding":{"x":{"field":"x","type":"quantitative"},"y":{"field":"z","type":"quantitative"},"y2":{"datum":-0.58}}},
  {"data":{"name":"prof"},"transform":[{"filter":"datum.s==1&&datum.t=='w'"}],"mark":{"type":"area","color":"#ffffff","opacity":1,"interpolate":"monotone"},"encoding":{"x":{"field":"x","type":"quantitative"},"y":{"field":"z","type":"quantitative"},"y2":{"datum":3.15}}},
  {"data":{"name":"prof"},"transform":[{"filter":"datum.s==1&&datum.x==60"}],"mark":{"type":"line","color":"#8a8a8a","strokeWidth":1},"encoding":{"x":{"field":"x","type":"quantitative"},"y":{"field":"z","type":"quantitative"}}},
  {"data":{"name":"prof"},"transform":[{"filter":"datum.s==1&&datum.t=='b'"}],"mark":{"type":"line","color":"#1a1a80","strokeWidth":1.2,"interpolate":"monotone"},"encoding":{"x":{"field":"x","type":"quantitative"},"y":{"field":"z","type":"quantitative"}}},
  {"data":{"name":"prof"},"transform":[{"filter":"datum.s==1&&datum.t=='w'"}],"mark":{"type":"line","color":"#8a8a8a","strokeWidth":1,"interpolate":"monotone"},"encoding":{"x":{"field":"x","type":"quantitative"},"y":{"field":"z","type":"quantitative"}}},
  {"data":{"name":"ticks"},"mark":{"type":"text","align":"left","baseline":"middle","dx":9,"fontSize":16,"font":"Open Sans","color":"#111"},"encoding":{"x":{"datum":0,"type":"quantitative"},"y":{"field":"yl","type":"quantitative"},"text":{"field":"yl","type":"quantitative"}}}
 ]},
{"width":570,"height":87,
 "title":{"text":"ケース 1","anchor":"end","frame":"group","font":"Noto Sans CJK JP","fontSize":25,"fontWeight":"normal","baseline":"alphabetic","offset":-25.7,"color":"#000"},
 "layer":[
  {"data":{"name":"vel"},"transform":[{"filter":"datum.s==2"},{"fold":["a","b","c","d","e","f","g","h","i","j","k","l","m","n","o","p"],"as":["lv","v"]},{"lookup":"lv","from":{"data":{"name":"lev"},"key":"lv","fields":["yc"]}}],
   "mark":{"type":"rect","width":10.3,"height":5.4,"clip":true},
   "encoding":{
    "x":{"field":"x","type":"quantitative","scale":{"domain":[0,60],"nice":false},"axis":{"values":[10,20,30,40,50,60],"title":null,"tickSize":-5,"labelPadding":4,"labelFontSize":16,"labelFlush":false,"domainColor":"#a0a0a0","tickColor":"#a0a0a0","zindex":1}},
    "y":{"field":"yc","type":"quantitative","scale":{"domain":[-0.58,3.15],"nice":false,"zero":false},"axis":{"values":[0,1,2,3],"labels":false,"title":"Depth dir. (m)","titleFontSize":18,"titleFontWeight":"normal","titlePadding":1,"titleY":52,"tickSize":3,"domainColor":"#8f8fd0","tickColor":"#8f8fd0","zindex":1}},
    "color":{"field":"v","type":"quantitative","scale":{"type":"linear","domain":[0.5,0.75,1,1.25,1.5],"range":["#0000ff","#00ffff","#00ff00","#ffff00","#ff0000"],"interpolate":"rgb","clamp":true}}
   }},
  {"data":{"name":"prof"},"transform":[{"filter":"datum.s==2&&datum.t=='b'"}],"mark":{"type":"area","color":"#ffffff","opacity":1,"interpolate":"monotone"},"encoding":{"x":{"field":"x","type":"quantitative"},"y":{"field":"z","type":"quantitative"},"y2":{"datum":-0.58}}},
  {"data":{"name":"prof"},"transform":[{"filter":"datum.s==2&&datum.t=='w'"}],"mark":{"type":"area","color":"#ffffff","opacity":1,"interpolate":"monotone"},"encoding":{"x":{"field":"x","type":"quantitative"},"y":{"field":"z","type":"quantitative"},"y2":{"datum":3.15}}},
  {"data":{"name":"prof"},"transform":[{"filter":"datum.s==2&&datum.t=='b'"}],"mark":{"type":"line","color":"#20204a","strokeWidth":1,"interpolate":"monotone"},"encoding":{"x":{"field":"x","type":"quantitative"},"y":{"field":"z","type":"quantitative"}}},
  {"data":{"name":"prof"},"transform":[{"filter":"datum.s==2&&datum.t=='w'"}],"mark":{"type":"line","color":"#8a8a8a","strokeWidth":1,"interpolate":"monotone"},"encoding":{"x":{"field":"x","type":"quantitative"},"y":{"field":"z","type":"quantitative"}}},
  {"data":{"name":"ticks"},"mark":{"type":"text","align":"left","baseline":"middle","dx":9,"fontSize":16,"font":"Open Sans","color":"#111"},"encoding":{"x":{"datum":0,"type":"quantitative"},"y":{"field":"yl","type":"quantitative"},"text":{"field":"yl","type":"quantitative"}}}
 ]},
{"width":570,"height":87,
 "title":{"text":"ケース 2","anchor":"end","frame":"group","font":"Noto Sans CJK JP","fontSize":25,"fontWeight":"normal","baseline":"alphabetic","offset":-28,"color":"#000"},
 "layer":[
  {"data":{"name":"vel"},"transform":[{"filter":"datum.s==3"},{"fold":["a","b","c","d","e","f","g","h","i","j","k","l","m","n","o","p"],"as":["lv","v"]},{"lookup":"lv","from":{"data":{"name":"lev"},"key":"lv","fields":["yc"]}}],
   "mark":{"type":"rect","width":10.3,"height":5.4,"clip":true},
   "encoding":{
    "x":{"field":"x","type":"quantitative","scale":{"domain":[0,60],"nice":false},"axis":{"values":[10,20,30,40,50,60],"title":"Downstream direction (m)","titleFontSize":18,"titleFontWeight":"normal","titlePadding":6,"tickSize":-5,"labelPadding":4,"labelFontSize":16,"labelFlush":false,"domainColor":"#a0a0a0","tickColor":"#a0a0a0","zindex":1}},
    "y":{"field":"yc","type":"quantitative","scale":{"domain":[-0.58,3.15],"nice":false,"zero":false},"axis":{"values":[0,1,2,3],"labels":false,"title":"Depth dir. (m)","titleFontSize":18,"titleFontWeight":"normal","titlePadding":1,"titleY":52,"tickSize":3,"domainColor":"#8f8fd0","tickColor":"#8f8fd0","zindex":1}},
    "color":{"field":"v","type":"quantitative","scale":{"type":"linear","domain":[0.5,0.75,1,1.25,1.5],"range":["#0000ff","#00ffff","#00ff00","#ffff00","#ff0000"],"interpolate":"rgb","clamp":true}}
   }},
  {"data":{"name":"prof"},"transform":[{"filter":"datum.s==3&&datum.t=='b'"}],"mark":{"type":"area","color":"#ffffff","opacity":1,"interpolate":"monotone"},"encoding":{"x":{"field":"x","type":"quantitative"},"y":{"field":"z","type":"quantitative"},"y2":{"datum":-0.58}}},
  {"data":{"name":"prof"},"transform":[{"filter":"datum.s==3&&datum.t=='w'"}],"mark":{"type":"area","color":"#ffffff","opacity":1,"interpolate":"monotone"},"encoding":{"x":{"field":"x","type":"quantitative"},"y":{"field":"z","type":"quantitative"},"y2":{"datum":3.15}}},
  {"data":{"name":"prof"},"transform":[{"filter":"datum.s==3&&datum.t=='b'"}],"mark":{"type":"line","color":"#20204a","strokeWidth":1,"interpolate":"monotone"},"encoding":{"x":{"field":"x","type":"quantitative"},"y":{"field":"z","type":"quantitative"}}},
  {"data":{"name":"prof"},"transform":[{"filter":"datum.s==3&&datum.t=='w'"}],"mark":{"type":"line","color":"#8a8a8a","strokeWidth":1,"interpolate":"monotone"},"encoding":{"x":{"field":"x","type":"quantitative"},"y":{"field":"z","type":"quantitative"}}},
  {"data":{"name":"ticks"},"mark":{"type":"text","align":"left","baseline":"middle","dx":9,"fontSize":16,"font":"Open Sans","color":"#111"},"encoding":{"x":{"datum":0,"type":"quantitative"},"y":{"field":"yl","type":"quantitative"},"text":{"field":"yl","type":"quantitative"}}}
 ]}
]
}
